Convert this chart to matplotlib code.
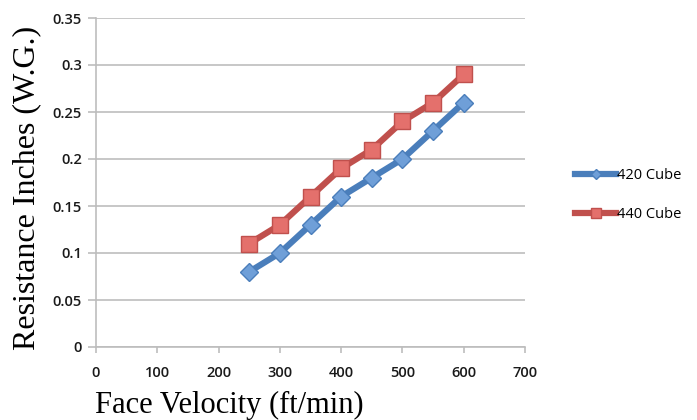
import matplotlib
matplotlib.use("Agg")
import matplotlib.pyplot as plt

# data
velocity = [250, 300, 350, 400, 450, 500, 550, 600]
cube_420 = [0.08, 0.10, 0.13, 0.16, 0.18, 0.20, 0.23, 0.26]
cube_440 = [0.11, 0.13, 0.16, 0.19, 0.21, 0.24, 0.26, 0.29]
xticks = [0, 100, 200, 300, 400, 500, 600, 700]
yticks = [0, 0.05, 0.1, 0.15, 0.2, 0.25, 0.3, 0.35]
ytick_labels = ["0", "0.05", "0.1", "0.15", "0.2", "0.25", "0.3", "0.35"]

fig = plt.figure(figsize=(6.97, 4.2), dpi=100)
ax = fig.add_axes([96/697, 1 - 347/420, (525-96)/697, (347-18)/420])

tick_font = "Open Sans"
ax.plot(velocity, cube_420, color="#4A7EBB", lw=4.5, marker="D", ms=9,
        mfc="#6F9FD8", mec="#4A7EBB", mew=1, label="420 Cube")
ax.plot(velocity, cube_440, color="#C0504D", lw=4.5, marker="s", ms=11,
        mfc="#E4706C", mec="#C0504D", mew=1, label="440 Cube")

ax.set_xlim(0, 700)
ax.set_ylim(0, 0.35)
ax.set_xticks(xticks)
ax.set_yticks(yticks)
ax.set_yticklabels(ytick_labels)
ax.grid(axis="y", color="#BDBDBD", lw=1.2)
ax.set_axisbelow(True)
for s in ["top", "right"]:
    ax.spines[s].set_visible(False)
ax.spines["left"].set_color("#BDBDBD")
ax.spines["bottom"].set_color("#BDBDBD")
ax.spines["left"].set_linewidth(1.2)
ax.spines["bottom"].set_linewidth(1.2)
ax.tick_params(axis="y", length=6, color="#BDBDBD", width=1.2, pad=4)
ax.tick_params(axis="x", length=4, color="#BDBDBD", width=1.2, pad=10)
for lab in ax.get_xticklabels() + ax.get_yticklabels():
    lab.set_fontfamily(tick_font)
    lab.set_fontsize(10.5)
    lab.set_fontweight(600)
    lab.set_color("#1a1a1a")

fig.text(96/697 - 0.002, 1 - 405/420, "Face Velocity (ft/min)", family="Liberation Serif",
         fontsize=22, ha="left", va="center")
fig.text(27/697, 1 - 188/420, "Resistance Inches (W.G.)", family="Liberation Serif",
         fontsize=23, rotation=90, ha="center", va="center")

leg = fig.legend(loc="center left", bbox_to_anchor=(562/697, 1 - 195/420),
                 frameon=False, prop={"family": tick_font, "size": 10.5},
                 handlelength=2.8, handletextpad=0.05, labelspacing=1.7, markerscale=0.6)

fig.savefig("out.png", dpi=100)
